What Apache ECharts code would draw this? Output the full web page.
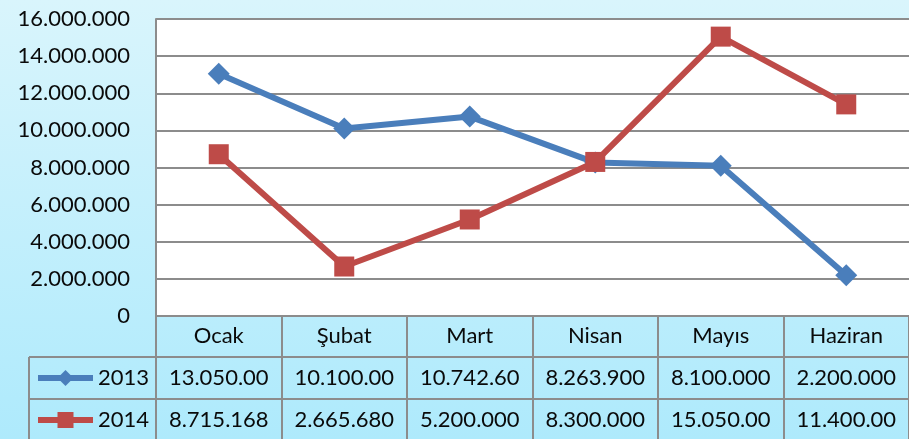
<!DOCTYPE html>
<html>
<head>
<meta charset="utf-8">
<script src="https://cdn.jsdelivr.net/npm/echarts@6/dist/echarts.min.js"></script>
<style>
  html, body { margin: 0; padding: 0; }
  #chart { width: 909px; height: 439px; }
</style>
</head>
<body>
<div id="chart"></div>
<script>
var months = ['Ocak', 'Şubat', 'Mart', 'Nisan', 'Mayıs', 'Haziran'];
var years = ['2013', '2014'];
var values2013 = [13050000, 10100000, 10742600, 8263900, 8100000, 2200000];
var values2014 = [8715168, 2665680, 5200000, 8300000, 15050000, 11400000];
var yTicks = [0, 2000000, 4000000, 6000000, 8000000, 10000000, 12000000, 14000000, 16000000];

var FONT = 'Lato';
var GRID_LINE = '#8c8c8c';
var TEXT = '#0a0a0a';

// 16000000 -> "16.000.000"
function dots(v) {
  return String(v).replace(/\B(?=(\d{3})+(?!\d))/g, '.');
}
// the table cells in the original clip long numbers after 9 characters
function cell(v) {
  return dots(v).slice(0, 9);
}

var chart = echarts.init(document.getElementById('chart'));

var tableAxis = function (vals, offset) {
  return {
    type: 'category',
    position: 'bottom',
    offset: offset,
    data: vals.map(cell),
    axisLine: { show: false },
    axisTick: { show: false },
    axisLabel: { interval: 0, margin: 10, fontSize: 22, fontFamily: FONT, color: TEXT }
  };
};

chart.setOption({
  backgroundColor: {
    type: 'linear', x: 0, y: 0, x2: 0, y2: 1,
    colorStops: [{ offset: 0, color: '#d9f5fc' }, { offset: 1, color: '#aeeafc' }]
  },
  textStyle: { fontFamily: FONT },
  grid: {
    left: 156, top: 19, width: 760, height: 297,
    show: true, backgroundColor: '#ffffff', borderWidth: 0
  },
  legend: {
    data: years,
    orient: 'vertical',
    left: 35,
    top: 367,
    padding: 0,
    itemWidth: 55,
    itemHeight: 20,
    itemGap: 20,
    lineStyle: { width: 6 },
    textStyle: { fontSize: 22, fontFamily: FONT, color: TEXT }
  },
  xAxis: [
    {
      type: 'category',
      data: months,
      boundaryGap: true,
      axisLine: { show: true, lineStyle: { color: GRID_LINE, width: 2 } },
      axisTick: { show: true, length: 125, lineStyle: { color: GRID_LINE, width: 2 } },
      axisLabel: { interval: 0, margin: 9, fontSize: 22, fontFamily: FONT, color: TEXT }
    },
    tableAxis(values2013, 41),
    tableAxis(values2014, 83)
  ],
  yAxis: {
    type: 'value',
    min: yTicks[0],
    max: yTicks[yTicks.length - 1],
    interval: yTicks[1] - yTicks[0],
    axisLine: { show: true, lineStyle: { color: GRID_LINE, width: 2 } },
    axisTick: { show: false },
    axisLabel: {
      margin: 26, fontSize: 22, fontFamily: FONT, color: TEXT,
      formatter: function (v) { return dots(v); }
    },
    splitLine: { show: true, lineStyle: { color: GRID_LINE, width: 2 } }
  },
  series: [
    {
      name: years[0],
      type: 'line',
      data: values2013,
      symbol: 'diamond',
      symbolSize: 22,
      itemStyle: { color: '#4a7ebb' },
      lineStyle: { width: 6, color: '#4a7ebb' },
      animation: false
    },
    {
      name: years[1],
      type: 'line',
      data: values2014,
      symbol: 'rect',
      symbolSize: 20,
      itemStyle: { color: '#be4b48' },
      lineStyle: { width: 6, color: '#be4b48' },
      animation: false
    }
  ],
  graphic: [
    // table row separators and the left border of the data rows
    { type: 'line', shape: { x1: 29, y1: 357, x2: 909, y2: 357 }, style: { stroke: GRID_LINE, lineWidth: 2 } },
    { type: 'line', shape: { x1: 29, y1: 399, x2: 909, y2: 399 }, style: { stroke: GRID_LINE, lineWidth: 2 } },
    { type: 'line', shape: { x1: 29, y1: 357, x2: 29, y2: 439 }, style: { stroke: GRID_LINE, lineWidth: 2 } }
  ]
});
</script>
</body>
</html>
